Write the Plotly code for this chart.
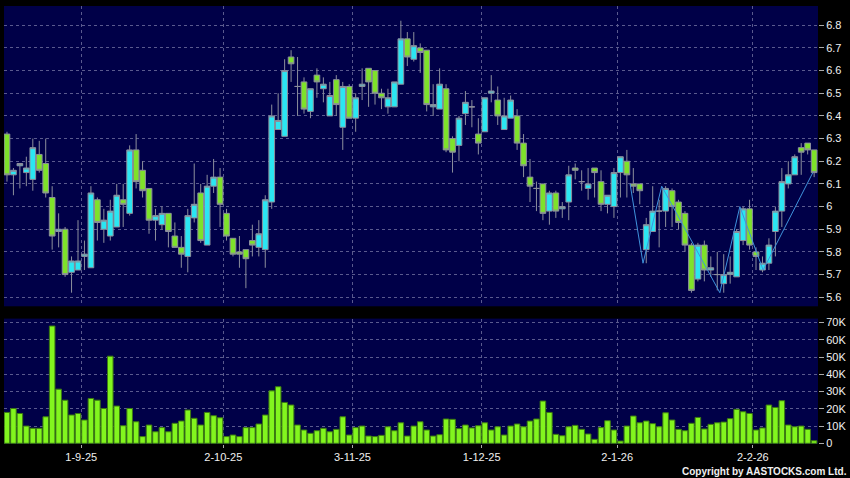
import plotly.graph_objects as go
import pandas as pd

# ---------------- data ----------------
hk_holidays = ["2025-10-01", "2025-10-07", "2025-10-29",
               "2025-12-25", "2025-12-26", "2026-01-01"]
dates = [d for d in pd.bdate_range("2025-08-14", "2026-02-13")
         if d.strftime("%Y-%m-%d") not in hk_holidays]

opens = [6.32, 6.14, 6.18, 6.15, 6.12, 6.23, 6.19, 6.04, 5.89, 5.90,
         5.71, 5.72, 5.78, 5.73, 6.03, 5.90, 5.87, 5.91, 6.03, 5.97,
         6.25, 6.16, 6.08, 5.94, 5.92, 5.97, 5.87, 5.82, 5.78, 5.95,
         6.06, 5.83, 6.09, 6.13, 5.97, 5.86, 5.80, 5.81, 5.85, 5.82,
         5.81, 6.02, 6.34, 6.31, 6.66, 6.53, 6.55, 6.42, 6.58, 6.52,
         6.40, 6.56, 6.35, 6.53, 6.39, 6.53, 6.61, 6.60, 6.50, 6.44,
         6.44, 6.54, 6.74, 6.65, 6.70, 6.69, 6.44, 6.43, 6.52, 6.30,
         6.27, 6.41, 6.44, 6.32, 6.33, 6.50, 6.47, 6.34, 6.39, 6.40,
         6.28, 6.13, 6.08, 6.10, 5.98, 6.06, 5.99, 6.02, 6.17, 6.11,
         6.08, 6.17, 6.11, 6.01, 6.00, 6.15, 6.20, 6.10, 6.10, 5.81,
         5.89, 5.98, 5.98, 6.07, 6.02, 5.97, 5.83, 5.68, 5.83, 5.72,
         5.70, 5.66, 5.70, 5.69, 5.85, 5.99, 5.80, 5.72, 5.75, 5.89,
         5.98, 6.10, 6.14, 6.26, 6.28, 6.25]
highs = [6.33, 6.17, 6.19, 6.22, 6.30, 6.29, 6.30, 6.09, 5.97, 5.91,
         5.78, 5.94, 5.85, 6.09, 6.04, 5.99, 6.03, 6.10, 6.10, 6.27,
         6.32, 6.20, 6.08, 5.99, 6.00, 5.97, 5.93, 5.87, 5.99, 6.19,
         6.10, 6.14, 6.21, 6.17, 5.99, 5.86, 5.87, 5.81, 5.92, 5.94,
         6.05, 6.45, 6.50, 6.65, 6.69, 6.66, 6.57, 6.52, 6.61, 6.57,
         6.55, 6.58, 6.55, 6.54, 6.50, 6.61, 6.61, 6.60, 6.52, 6.52,
         6.55, 6.82, 6.77, 6.77, 6.72, 6.69, 6.54, 6.61, 6.54, 6.31,
         6.40, 6.51, 6.47, 6.39, 6.48, 6.58, 6.53, 6.48, 6.49, 6.43,
         6.32, 6.21, 6.11, 6.10, 6.07, 6.07, 6.02, 6.18, 6.19, 6.16,
         6.17, 6.17, 6.16, 6.05, 6.17, 6.22, 6.25, 6.17, 6.10, 5.95,
         6.09, 6.03, 6.09, 6.08, 6.03, 5.98, 5.84, 5.84, 5.85, 5.78,
         5.80, 5.79, 5.78, 5.90, 6.00, 6.03, 5.82, 5.78, 5.86, 6.00,
         6.17, 6.20, 6.23, 6.28, 6.28, 6.25]
lows = [6.11, 6.05, 6.08, 6.09, 6.07, 6.15, 6.04, 5.81, 5.82, 5.69,
        5.62, 5.72, 5.72, 5.73, 5.85, 5.84, 5.85, 5.91, 5.91, 5.96,
        6.08, 6.04, 5.88, 5.85, 5.90, 5.82, 5.82, 5.73, 5.71, 5.93,
        5.84, 5.83, 6.06, 5.91, 5.85, 5.78, 5.73, 5.64, 5.78, 5.78,
        5.73, 5.99, 6.34, 6.31, 6.55, 6.40, 6.41, 6.39, 6.48, 6.46,
        6.40, 6.40, 6.25, 6.39, 6.33, 6.47, 6.44, 6.45, 6.43, 6.41,
        6.44, 6.54, 6.62, 6.64, 6.59, 6.42, 6.40, 6.43, 6.24, 6.15,
        6.20, 6.36, 6.35, 6.23, 6.33, 6.46, 6.36, 6.34, 6.39, 6.25,
        6.13, 6.02, 5.98, 5.94, 5.92, 5.95, 5.95, 5.94, 6.12, 6.07,
        6.03, 6.04, 5.98, 5.97, 5.95, 6.04, 6.04, 6.06, 6.01, 5.75,
        5.89, 5.82, 5.91, 5.91, 5.90, 5.80, 5.62, 5.67, 5.67, 5.69,
        5.63, 5.62, 5.66, 5.69, 5.83, 5.81, 5.72, 5.71, 5.72, 5.78,
        5.91, 6.08, 6.14, 6.14, 6.23, 6.13]
closes = [6.14, 6.16, 6.19, 6.17, 6.26, 6.16, 6.06, 5.87, 5.90, 5.70,
          5.76, 5.76, 5.79, 6.06, 5.93, 5.94, 5.98, 6.05, 6.01, 6.25,
          6.11, 6.07, 5.94, 5.96, 5.97, 5.89, 5.82, 5.79, 5.96, 6.01,
          5.85, 6.09, 6.13, 6.01, 5.87, 5.79, 5.79, 5.77, 5.83, 5.88,
          6.03, 6.40, 6.38, 6.60, 6.63, 6.53, 6.43, 6.52, 6.55, 6.54,
          6.49, 6.45, 6.53, 6.39, 6.48, 6.54, 6.55, 6.50, 6.48, 6.48,
          6.55, 6.74, 6.66, 6.71, 6.68, 6.45, 6.45, 6.54, 6.25, 6.24,
          6.39, 6.46, 6.44, 6.28, 6.48, 6.51, 6.40, 6.40, 6.47, 6.28,
          6.18, 6.09, 6.08, 5.97, 6.06, 5.98, 6.00, 6.14, 6.16, 6.11,
          6.10, 6.15, 6.01, 6.05, 6.15, 6.22, 6.14, 6.09, 6.07, 5.92,
          5.98, 5.98, 6.08, 6.00, 5.93, 5.83, 5.63, 5.83, 5.72, 5.73,
          5.70, 5.70, 5.71, 5.89, 5.99, 5.83, 5.78, 5.75, 5.83, 5.98,
          6.11, 6.14, 6.22, 6.24, 6.25, 6.15]
volume_k = [17.9, 20.2, 17.3, 10.0, 8.7, 8.7, 15.4, 68.0, 31.4, 25.0,
            16.4, 17.3, 13.5, 26.0, 25.0, 20.2, 50.5, 21.6, 10.2, 20.2,
            12.5, 3.9, 10.6, 6.7, 9.1, 6.7, 11.6, 12.9, 19.3, 14.5,
            10.6, 17.9, 16.0, 14.8, 3.9, 4.8, 3.9, 9.1, 9.1, 11.2,
            16.4, 30.4, 32.8, 23.7, 22.2, 10.6, 7.7, 5.8, 7.3, 8.7,
            6.7, 8.1, 15.4, 4.8, 9.1, 10.0, 4.2, 3.9, 4.6, 9.6,
            7.3, 11.9, 4.2, 10.0, 12.5, 7.7, 4.2, 5.0, 14.1, 13.9,
            8.5, 10.6, 8.9, 10.2, 11.9, 7.7, 9.6, 4.8, 10.0, 11.2,
            9.6, 12.9, 14.1, 24.5, 17.9, 5.2, 4.4, 9.6, 10.4, 8.1,
            5.4, 2.3, 9.1, 13.1, 7.7, 1.3, 10.0, 15.8, 11.9, 12.9,
            11.4, 9.6, 17.7, 13.5, 8.1, 7.3, 11.6, 15.0, 8.3, 11.0,
            11.9, 12.3, 14.3, 19.7, 18.3, 17.3, 7.7, 8.9, 22.2, 20.8,
            24.7, 10.6, 9.6, 10.0, 8.1, 1.5]

# pattern line drawn on the chart (position in trading-day index, price)
zigzag_idx = [96.5, 98.5, 101.4, 110.4, 113.5, 117.1, 124.8]
zigzag_price = [6.10, 5.75, 6.09, 5.62, 6.00, 5.72, 6.15]

price_ticks = [5.6, 5.7, 5.8, 5.9, 6.0, 6.1, 6.2, 6.3, 6.4, 6.5, 6.6, 6.7, 6.8]
volume_ticks_k = [0, 10, 20, 30, 40, 50, 60, 70]

# ---------------- derived ----------------
idx = list(range(len(dates)))
month_pos, month_text = [], []
for i in range(1, len(dates)):
    if dates[i].month != dates[i - 1].month:
        month_pos.append(i - 0.5)
        month_text.append(f"{dates[i].day}-{dates[i].month}-{dates[i].strftime('%y')}")

NAVY = "#000048"
GRID = "#5a5a8e"
CYAN = "#2be6f2"
GREEN = "#7ee22a"
EDGE = "#8c8f9c"
VOL = "#82f51e"
FONT = dict(family="Liberation Sans, Arial, sans-serif", size=11, color="#f0f0f0")

fig = go.Figure()
fig.add_trace(go.Candlestick(
    x=idx, open=opens, high=highs, low=lows, close=closes,
    increasing=dict(fillcolor=CYAN, line=dict(color=EDGE, width=1)),
    decreasing=dict(fillcolor=GREEN, line=dict(color=EDGE, width=1)),
    whiskerwidth=0, xaxis="x", yaxis="y", showlegend=False, hoverinfo="skip"))
fig.add_trace(go.Scatter(
    x=zigzag_idx, y=zigzag_price, mode="lines",
    line=dict(color="#3f92dc", width=1), xaxis="x", yaxis="y",
    showlegend=False, hoverinfo="skip"))
fig.add_trace(go.Bar(
    x=idx, y=volume_k, width=0.86,
    marker=dict(color=VOL, line=dict(color="#3c7a12", width=1)),
    xaxis="x2", yaxis="y2", showlegend=False, hoverinfo="skip"))

x_range = [-0.46, len(dates) - 0.4]
common_x = dict(range=x_range, tickvals=month_pos, ticktext=month_text,
                showgrid=True, gridcolor=GRID, gridwidth=1, griddash="3px,3px",
                zeroline=False, showline=False, fixedrange=True)

fig.update_layout(
    width=850, height=478,
    margin=dict(l=4, r=30, t=5, b=34),
    paper_bgcolor="black", plot_bgcolor=NAVY,
    showlegend=False, boxgap=0.12, boxgroupgap=0,
    font=FONT,
    xaxis=dict(domain=[0, 1], anchor="y", rangeslider=dict(visible=False),
               showticklabels=False, ticks="", **common_x),
    xaxis2=dict(domain=[0, 1], anchor="y2", showticklabels=True,
                ticks="outside", ticklen=3, tickcolor="#aaaaaa",
                tickfont=FONT, **common_x),
    yaxis=dict(domain=[0.3144, 1], anchor="x", side="right",
               range=[5.56, 6.885], tickvals=price_ticks,
               ticktext=[f"{v:g}" for v in price_ticks],
               ticks="outside", ticklen=5, tickcolor="#aaaaaa", tickfont=FONT,
               showgrid=True, gridcolor=GRID, gridwidth=1, griddash="3px,3px",
               zeroline=False, showline=False, fixedrange=True),
    yaxis2=dict(domain=[0, 0.2863], anchor="x2", side="right",
                range=[-0.4, 72.3], tickvals=volume_ticks_k,
                ticktext=[f"{v}K" if v else "0" for v in volume_ticks_k],
                ticks="outside", ticklen=5, tickcolor="#aaaaaa", tickfont=FONT,
                showgrid=True, gridcolor=GRID, gridwidth=1, griddash="3px,3px",
                zeroline=False, showline=False, fixedrange=True),
    annotations=[dict(text="<b>Copyright by AASTOCKS.com Ltd.</b>", xref="paper", yref="paper",
                      x=1.038, y=-0.0638, xanchor="right", yanchor="middle",
                      showarrow=False,
                      font=dict(family="Liberation Sans, Arial, sans-serif", size=10, color="#f0f0f0"))],
)

fig.write_html(
    "out.html",
    config={"displayModeBar": False},
    post_script="document.body.style.margin='0px';document.body.style.background='black';",
)
